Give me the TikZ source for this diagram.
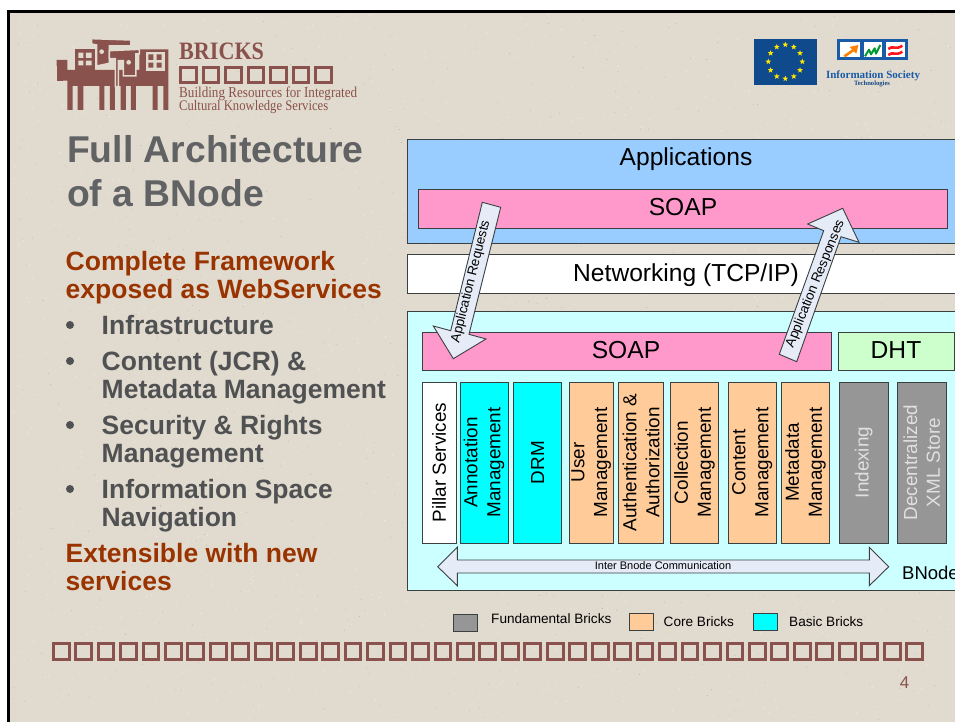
\documentclass[tikz,border=0pt]{standalone}
\usepackage{fontspec}
\usepackage{graphicx}
\setmainfont{Liberation Sans}
\newfontfamily\logoserif{Liberation Serif}
\usetikzlibrary{shapes.geometric}
\definecolor{paper}{HTML}{E1DACE}
\definecolor{specklight}{HTML}{EDE8DF}
\definecolor{speckdark}{HTML}{B9B1A3}
\definecolor{brick}{HTML}{8A524C}
\definecolor{head}{HTML}{993300}
\definecolor{body}{HTML}{505153}
\definecolor{sky}{HTML}{99CCFF}
\definecolor{pink}{HTML}{FF99CC}
\definecolor{pale}{HTML}{CCFFFF}
\definecolor{mint}{HTML}{CCFFCC}
\definecolor{core}{HTML}{FFCC99}
\definecolor{basic}{HTML}{00FFFF}
\definecolor{fund}{HTML}{969696}
\definecolor{arrowfill}{HTML}{E6ECF7}
\definecolor{edge}{HTML}{3A4040}
\definecolor{eublue}{HTML}{0F4A8C}
\definecolor{istblue}{HTML}{1A5BA8}
\newcommand{\fs}[2]{\fontsize{#1}{#2}\selectfont}
\newcommand{\hbx}[6]{% name x1 y1 x2 y2 fill
  \node[panel,fill=#6,minimum width={(#4-#2)*1pt},minimum height={(#5-#3)*1pt}] (#1) at ({(#2+#4)/2},{(#3+#5)/2}) {};}
\newcommand{\brk}[6]{% name x1 x2 fill textcolour text
  \node[panel,fill=#4,minimum width={(#3-#2)*1pt},minimum height=161pt] (#1) at ({(#2+#3)/2},462.5) {};
  \node[coltext,text=#5] (#1t) at (#1.center) {#6};}
\tikzset{
  panel/.style={draw=edge,line width=.9pt,rectangle,inner sep=0pt,outer sep=0pt},
  coltext/.style={rotate=90,inner sep=0pt,align=center,font=\fs{18.9}{22.8}},
  lab/.style={anchor=base,inner sep=0pt,font=\fs{24.6}{28}},
  lefttext/.style={anchor=base west,inner sep=0pt,font=\bfseries\fs{26.5}{28}},
  hd/.style={lefttext,text=head},
  bd/.style={lefttext,text=body},
  bulletdot/.style={circle,fill=body,minimum size=8pt,inner sep=0pt},
  flow/.style={draw=edge,fill=arrowfill,line width=.9pt,line join=miter},
  arrowlab/.style={inner sep=0pt,font=\fs{13.4}{15}},
  legend/.style={anchor=base west,inner sep=0pt,font=\fs{13.6}{15}},
  sq/.style={draw=brick,line width=3pt},
  logofill/.style={fill=brick,draw=none},
  logogap/.style={fill=brick,draw=paper,line width=1.5pt,line join=miter},
}
\begin{document}
\begin{tikzpicture}[x=1pt,y=-1pt]
\useasboundingbox (0,0) rectangle (955,722);
\clip (0,0) rectangle (955,722);
\fill[white] (0,0) rectangle (955,722);
\fill[paper] (9,11) rectangle (955,722);
\pgfmathsetseed{4711}
\foreach \i in {1,...,1100} {\fill[specklight] (12+940*rnd,14+706*rnd) circle (.8pt);}
\foreach \i in {1,...,600} {\fill[speckdark] (12+940*rnd,14+706*rnd) circle (.45pt);}
\draw[black,line width=2.7pt] (8.7,722) -- (8.7,11.3) -- (955,11.3);

% logo
\begin{scope}[shift={(50,30)},x=.3333pt,y=-.3333pt]
  \fill[logofill] (20,90) -- (52,90) -- (52,120) -- (268,120) -- (268,58) -- (355,58) -- (355,240) -- (340,240) -- (340,168)
    -- (323,168) -- (323,240) -- (308,240) -- (308,168) -- (258,168) -- (258,240) -- (243,240) -- (243,168) -- (228,168) -- (228,240)
    -- (212,240) -- (212,168) -- (195,168) -- (195,240) -- (180,240) -- (180,168) -- (163,168) -- (163,240) -- (148,240) -- (148,168)
    -- (100,168) -- (100,240) -- (83,240) -- (83,168) -- (68,168) -- (68,240) -- (52,240) -- (52,152) -- (38,152) -- (38,108) -- (20,108) -- cycle;
  \fill[logofill] (20,90) rectangle (38,152);
  \fill[logofill] (75,58) rectangle (135,120);
  \fill[paper] (85,68) rectangle (100,84) (108,68) rectangle (125,84) (85,92) rectangle (100,106) (108,92) rectangle (125,106);
  \draw[logogap] (125,26) -- (243,30) -- (243,48) -- (178,48) -- (178,100) -- (140,108) -- (140,45) -- (125,42) -- cycle;
  \draw[logogap] (178,62) -- (268,58) -- (268,72) -- (258,72) -- (258,138) -- (220,138) -- (220,92) -- (205,92) -- (205,170) -- (196,170) -- (196,86) -- (178,86) -- cycle;
  \fill[paper] (287,65) rectangle (345,122);
  \fill[brick] (295,73) rectangle (310,90) (320,73) rectangle (335,90) (295,98) rectangle (310,113) (320,98) rectangle (335,113);
  \fill[paper] (155,65) circle (7) (236,97) circle (7);
\end{scope}
\node[anchor=base west,inner sep=0pt,text=brick] (bricks) at (179,60) {\logoserif\bfseries\fs{25}{28}\scalebox{.885}[1]{BRICKS}};
\foreach \k in {0,...,6} {\draw[sq] ({180.7+22.5*\k},67.3) rectangle ++(15.6,15.6);}
\node[anchor=base west,inner sep=0pt,text=brick] (tag1) at (179,98) {\scalebox{1}[1.15]{\resizebox{178pt}{!}{\logoserif\fs{13}{15}Building Resources for Integrated}}};
\node[anchor=base west,inner sep=0pt,text=brick] (tag2) at (179,110.5) {\scalebox{1}[1.15]{\resizebox{149pt}{!}{\logoserif\fs{13}{15}Cultural Knowledge Services}}};

% EU flag
\fill[eublue] (754,39) rectangle (816.5,85);
\foreach \a in {0,30,...,330} {
  \node[star,star points=5,star point ratio=2.4,fill=yellow!90!orange,minimum size=6pt,inner sep=0pt] (eu\a) at ({785.3+17*cos(\a)},{61.7+17*sin(\a)}) {};}

% IST logo
\begin{scope}[shift={(825,35)},x=.3333pt,y=-.3333pt]
  \draw[istblue,line width=3pt,fill=white] (41,16) rectangle (110,72);
  \draw[istblue,line width=3pt,fill=white] (112,18) rectangle (176,72);
  \draw[istblue,line width=3pt,fill=white] (178,16) rectangle (245,70);
  \draw[orange,line width=2.6pt] (58,64) -- (90,42);
  \fill[orange] (100,30) -- (74,36) -- (94,56) -- cycle;
  \draw[green!50!black!80!cyan,line width=2pt,line join=round] (120,64) -- (132,44) -- (138,58) -- (149,40) -- (153,56) -- (166,30);
  \draw[red!85!pink,line width=2.6pt] (190,42) .. controls (202,30) and (214,46) .. (232,32);
  \draw[red!85!pink,line width=2.6pt] (190,60) .. controls (202,48) and (214,64) .. (232,50);
\end{scope}
\node[anchor=base,inner sep=0pt,text=istblue] (ist1) at (873,79) {\resizebox{94pt}{!}{\logoserif\bfseries\fs{13}{15}Information Society}};
\node[anchor=base,inner sep=0pt,text=istblue!80!black] (ist2) at (872,85.5) {\resizebox{36pt}{!}{\logoserif\bfseries\fs{8}{9}Technologies}};

% left text
\node[anchor=base west,inner sep=0pt,text=body!90!white,font=\bfseries\fs{37.3}{40}] (t1) at (67,163) {Full Architecture};
\node[anchor=base west,inner sep=0pt,text=body!90!white,font=\bfseries\fs{37.3}{40}] (t2) at (67,207) {of a BNode};
\node[hd] (h1) at (65.5,270) {Complete Framework};
\node[hd] (h2) at (65.5,298) {exposed as WebServices};
\node[bd] (b1) at (101.5,334) {Infrastructure};
\node[bd] (b2) at (101.5,370) {Content (JCR) \&};
\node[bd] (b3) at (101.5,398) {Metadata Management};
\node[bd] (b4) at (101.5,434) {Security \& Rights};
\node[bd] (b5) at (101.5,462) {Management};
\node[bd] (b6) at (101.5,498) {Information Space};
\node[bd] (b7) at (101.5,526) {Navigation};
\node[hd] (h3) at (65.5,562) {Extensible with new};
\node[hd] (h4) at (65.5,590) {services};
\node[bulletdot] (d1) at (70,325) {};
\node[bulletdot] (d2) at (70,361) {};
\node[bulletdot] (d3) at (70,425) {};
\node[bulletdot] (d4) at (70,489) {};

% panels
\hbx{apps}{407}{139}{975}{243}{sky}
\hbx{soapa}{418.5}{189}{947}{228}{pink}
\hbx{net}{407}{254.5}{975}{293}{white}
\hbx{bnode}{407}{311}{975}{590}{pale}
\hbx{soapb}{422}{332}{831.5}{370}{pink}
\hbx{dht}{838.5}{332}{954}{370}{mint}
\node[lab] (appsl) at (686,166) {Applications};
\node[lab] (soapal) at (683,215) {SOAP};
\node[lab] (netl) at (686,281) {Networking (TCP/IP)};
\node[lab] (soapbl) at (626,358) {SOAP};
\node[lab] (dhtl) at (896,358) {DHT};
\node[anchor=base west,inner sep=0pt,font=\fs{18.5}{22}] (bnl) at (902,579) {BNode};

% bricks
\brk{pillar}{422.3}{456}{white}{black}{Pillar Services}
\brk{annot}{460}{508}{basic}{black}{Annotation\\Management}
\brk{drm}{513.5}{561.5}{basic}{black}{DRM}
\brk{user}{569}{613.5}{core}{black}{User\\Management}
\brk{auth}{618.7}{663.5}{core}{black}{Authentication \&\\Authorization}
\brk{coll}{670.5}{718.5}{core}{black}{Collection\\Management}
\brk{cont}{728.5}{776}{core}{black}{Content\\Management}
\brk{meta}{781.5}{829.5}{core}{black}{Metadata\\Management}
\brk{index}{839}{888.5}{fund}{black!12}{Indexing}
\brk{dec}{897}{946.5}{fund}{black!12}{Decentralized\\XML Store}

% flow arrows
\draw[flow] (482.3,202.3) -- (500.7,207.3) -- (469,334.3) -- (486,339) -- (453.3,358.7) -- (433.3,326) -- (450.7,330.7) -- cycle;
\node[arrowlab,rotate=76] (reql) at (471,281.7) {Application Requests};
\draw[flow] (779.3,354.3) -- (796.7,361.7) -- (841,236.7) -- (859,242.3) -- (842.7,208.3) -- (807.7,224) -- (823.7,230.7) -- cycle;
\node[arrowlab,rotate=68] (resl) at (815.5,283.7) {Application Responses};
\draw[flow] (437.7,566.7) -- (457.3,547.3) -- (457.3,560) -- (869.3,560) -- (869.3,547.3) -- (888.7,566.7) -- (869.3,585.7) -- (869.3,573) -- (457.3,573) -- (457.3,585.7) -- cycle;
\node[inner sep=0pt,font=\fs{11}{13}] (interl) at (663,565.5) {Inter Bnode Communication};

% legend
\hbx{lf}{453}{614}{477}{631}{fund}
\hbx{lc}{629.7}{613.3}{653.5}{630.3}{core}
\hbx{lb}{753}{613.3}{777}{630.3}{basic}
\node[legend] (lft) at (491,623) {Fundamental Bricks};
\node[legend] (lct) at (663.5,626) {Core Bricks};
\node[legend] (lbt) at (789,626) {Basic Bricks};

% strip
\foreach \k in {0,...,38} {\draw[sq] ({53.2+22.46*\k},643.7) rectangle ++(15.8,15.8);}
\node[anchor=base,inner sep=0pt,text=brick,font=\fs{17}{20}] (pg) at (904.5,688.5) {4};
\end{tikzpicture}
\end{document}
